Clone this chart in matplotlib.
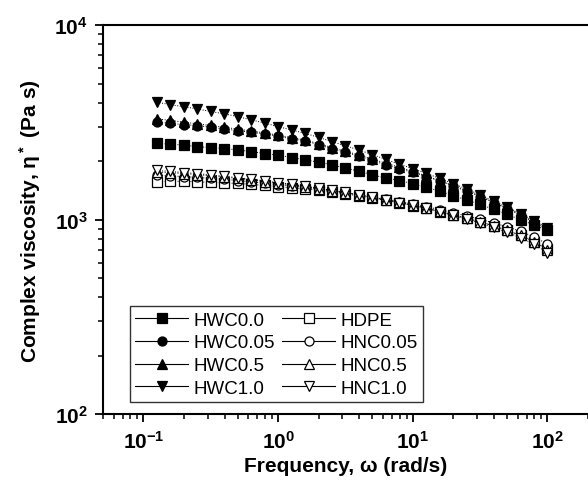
import matplotlib
matplotlib.use("Agg")
import matplotlib.pyplot as plt
from matplotlib.lines import Line2D

plt.rcParams["font.family"] = ["Liberation Sans", "DejaVu Sans"]
plt.rcParams["font.weight"] = "bold"
plt.rcParams["mathtext.fontset"] = "custom"
plt.rcParams["mathtext.rm"] = "Liberation Sans:bold"
plt.rcParams["mathtext.bf"] = "Liberation Sans:bold"
plt.rcParams["mathtext.default"] = "bf"

# angular frequency (rad/s)
freq = [0.126, 0.158, 0.200, 0.251, 0.316, 0.398, 0.501, 0.631, 0.794, 1.00,
        1.26, 1.58, 2.00, 2.51, 3.16, 3.98, 5.01, 6.31, 7.94, 10.0,
        12.6, 15.8, 20.0, 25.1, 31.6, 39.8, 50.1, 63.1, 79.4, 100.0]

# complex viscosity (Pa s)
hwc00 = [2474, 2445, 2416, 2376, 2348, 2321, 2286, 2240, 2188, 2147,
         2087, 2031, 1976, 1914, 1841, 1777, 1701, 1636, 1590, 1530,
         1465, 1400, 1330, 1262, 1198, 1130, 1065, 1000, 940, 880]
hwc005 = [3170, 3130, 3080, 3045, 2990, 2930, 2870, 2815, 2760, 2690,
          2600, 2550, 2425, 2315, 2225, 2120, 2015, 1915, 1830, 1750,
          1665, 1580, 1490, 1400, 1315, 1225, 1140, 1055, 970, 890]
hwc05 = [3300, 3240, 3170, 3110, 3050, 2990, 2920, 2860, 2790, 2720,
         2640, 2570, 2460, 2350, 2250, 2150, 2050, 1950, 1860, 1770,
         1680, 1590, 1500, 1410, 1320, 1230, 1145, 1060, 975, 895]
hwc10 = [4020, 3900, 3810, 3710, 3600, 3500, 3390, 3260, 3140, 3010,
         2890, 2780, 2650, 2520, 2400, 2280, 2160, 2040, 1930, 1830,
         1730, 1630, 1530, 1440, 1340, 1250, 1160, 1075, 990, 910]
hdpe = [1570, 1575, 1575, 1565, 1555, 1545, 1535, 1520, 1500, 1478,
        1458, 1440, 1415, 1388, 1360, 1325, 1292, 1256, 1220, 1182,
        1145, 1100, 1058, 1015, 975, 928, 882, 830, 772, 705]
hnc005 = [1690, 1680, 1665, 1650, 1630, 1610, 1590, 1565, 1540, 1515,
          1490, 1465, 1435, 1405, 1375, 1345, 1310, 1275, 1240, 1205,
          1168, 1125, 1085, 1045, 1005, 962, 920, 872, 815, 750]
hnc05 = [1760, 1745, 1725, 1705, 1680, 1655, 1630, 1600, 1570, 1540,
         1510, 1478, 1445, 1410, 1375, 1340, 1302, 1265, 1228, 1190,
         1150, 1106, 1062, 1018, 975, 930, 882, 830, 772, 700]
hnc10 = [1790, 1770, 1748, 1725, 1700, 1672, 1645, 1615, 1585, 1552,
         1520, 1487, 1452, 1416, 1380, 1342, 1303, 1264, 1225, 1185,
         1143, 1098, 1052, 1006, 960, 912, 862, 808, 748, 675]

series = [
    ("HWC0.0", hwc00, "s", "black"),
    ("HWC0.05", hwc005, "o", "black"),
    ("HWC0.5", hwc05, "^", "black"),
    ("HWC1.0", hwc10, "v", "black"),
    ("HDPE", hdpe, "s", "white"),
    ("HNC0.05", hnc005, "o", "white"),
    ("HNC0.5", hnc05, "^", "white"),
    ("HNC1.0", hnc10, "v", "white"),
]

fig = plt.figure(figsize=(5.88, 4.85), dpi=100)
ax = fig.add_axes([0.175, 0.144, 0.825, 0.802])

handles = []
for name, vals, mk, face in series:
    ax.plot(freq, vals, linestyle=":", color="black", linewidth=0.7,
            marker=mk, markersize=6.5, markerfacecolor=face,
            markeredgecolor="black", markeredgewidth=0.9)
    handles.append(Line2D([], [], color="black", linewidth=0.8, marker=mk,
                          markersize=6.5, markerfacecolor=face,
                          markeredgecolor="black", markeredgewidth=0.9,
                          label=name))

ax.set_xscale("log")
ax.set_yscale("log")
ax.set_xlim(0.05, 200)
ax.set_ylim(100, 10000)

for s in ["left", "bottom", "top"]:
    ax.spines[s].set_linewidth(1.5)
ax.spines["right"].set_visible(False)
ax.tick_params(which="major", direction="out", length=6, width=1.3,
               labelsize=15, top=False, right=False, pad=5)
ax.tick_params(which="minor", direction="out", length=3.5, width=1.1,
               top=False, right=False)

ax.set_xlabel("Frequency, ω (rad/s)", fontsize=15, fontweight="bold", labelpad=3)
ax.set_ylabel("Complex viscosity, η$^*$ (Pa s)", fontsize=15,
              fontweight="bold", labelpad=8)

leg = ax.legend(handles=handles, ncol=2, loc="lower left",
                bbox_to_anchor=(0.036, 0.006), frameon=True,
                prop={"size": 13.5, "weight": "normal"},
                fancybox=False, handlelength=2.8, handletextpad=0.3,
                columnspacing=0.4, labelspacing=0.3, borderpad=0.3)
leg.get_frame().set_edgecolor("black")
leg.get_frame().set_linewidth(1.0)

fig.savefig("out.png", dpi=100)
